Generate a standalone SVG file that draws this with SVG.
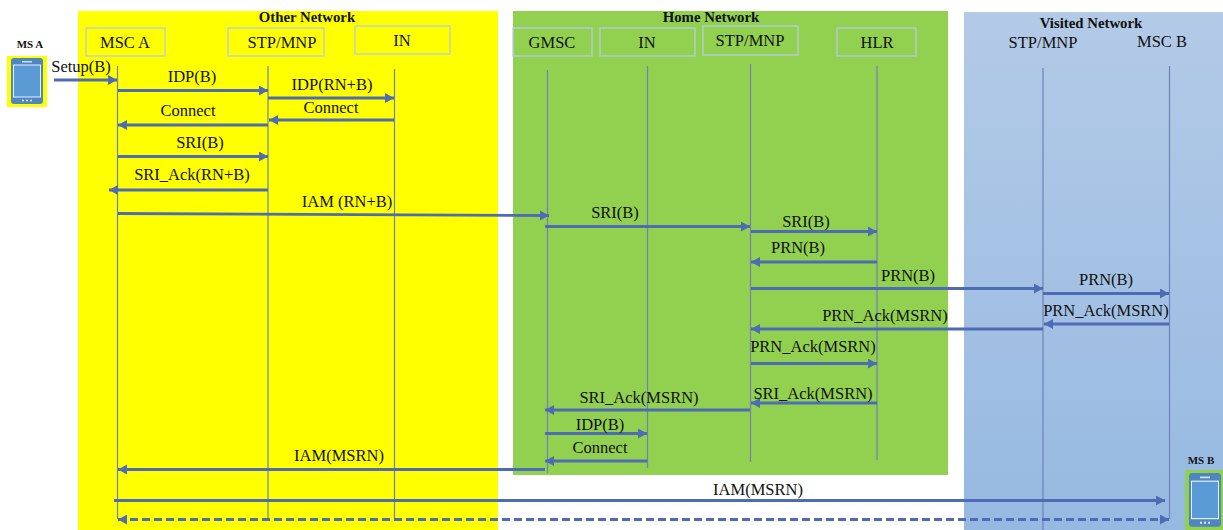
<svg xmlns="http://www.w3.org/2000/svg" width="1223" height="530" viewBox="0 0 1223 530">
<style>
text{font-family:"Liberation Serif",serif;fill:#111;text-anchor:middle}
.l{font-size:16.500px}
.h{font-size:14.800px;font-weight:bold}
.s{font-size:11px;font-weight:bold}
.box{fill:none;stroke:#b4cbe4;stroke-width:1.3}
.life{stroke:#6c84b8;stroke-width:1.2;fill:none}
.m{stroke:#4d6cb3;stroke-width:2.800;fill:none;marker-end:url(#a)}
.d{stroke-dasharray:8 4;marker-start:url(#b)}
</style>
<defs>
<marker id="a" markerUnits="userSpaceOnUse" markerWidth="11" markerHeight="11" refX="9" refY="5" orient="auto"><path d="M0 0L9 5L0 10Z" fill="#4d6cb3"/></marker>
<marker id="b" markerUnits="userSpaceOnUse" markerWidth="11" markerHeight="11" refX="0" refY="5" orient="auto"><path d="M9 0L0 5L9 10Z" fill="#4d6cb3"/></marker>
<linearGradient id="v" x1="0" y1="0" x2="0" y2="1"><stop offset="0" stop-color="#b3cae7"/><stop offset="1" stop-color="#96b9e1"/></linearGradient>
<g id="phone"><rect x="0" y="0" width="32" height="46" rx="3" fill="#4f86c0"/><rect x="2.500" y="7" width="27" height="32" fill="#5b9bd5" stroke="#e8f0f8"/><rect x="11" y="3" width="10" height="1.500" fill="#cfe0f0"/><circle cx="12" cy="42.500" r="1" fill="#e8f0f8"/><circle cx="16" cy="42.500" r="1" fill="#e8f0f8"/><circle cx="20" cy="42.500" r="1" fill="#e8f0f8"/></g>
</defs>
<rect id="bg-other" x="78" y="11" width="420" height="519" fill="#ffff00"/>
<rect id="bg-home" x="513" y="11" width="435" height="464" fill="#92d050"/>
<rect id="bg-visited" x="964" y="12" width="259" height="518" fill="url(#v)"/>
<text class="h" x="307" y="22">Other Network</text>
<text class="h" x="711" y="22">Home Network</text>
<text class="h" x="1091" y="28">Visited Network</text>
<g id="ms-a"><rect x="7" y="56" width="40" height="51" fill="#ffff00"/><use href="#phone" x="11" y="58"/><text class="s" x="30" y="48">MS A</text></g>
<g id="ms-b"><rect x="1185" y="470" width="38" height="60" fill="#92d050"/><use href="#phone" transform="translate(1189 473) scale(1 1.170)"/><text class="s" x="1201" y="464">MS B</text></g>
<g id="msc-a"><rect class="box" x="86" y="28" width="79" height="28"/><text class="l" x="125" y="48">MSC A</text></g>
<g id="stp-o"><rect class="box" x="228" y="28" width="96" height="28"/><text class="l" x="282" y="48">STP/MNP</text></g>
<g id="in-o"><rect class="box" x="355" y="26" width="95" height="28"/><text class="l" x="402" y="46">IN</text></g>
<g id="gmsc"><rect class="box" x="513" y="28" width="79" height="28"/><text class="l" x="552" y="48">GMSC</text></g>
<g id="in-h"><rect class="box" x="600" y="28" width="95" height="28"/><text class="l" x="647" y="48">IN</text></g>
<g id="stp-h"><rect class="box" x="703" y="26" width="95" height="29"/><text class="l" x="750" y="46">STP/MNP</text></g>
<g id="hlr"><rect class="box" x="837" y="28" width="79" height="28"/><text class="l" x="877" y="48">HLR</text></g>
<g id="stp-v"><text class="l" x="1043" y="48">STP/MNP</text></g>
<g id="msc-b"><text class="l" x="1162" y="47">MSC B</text></g>
<g id="connectors">
<path class="life" d="M117.500 66V519M268 66V519M394.500 69V519M547.500 70V473M647.500 66V468M750.500 64V462M877 66V460M1043 68V530M1169.500 66V519"/>
<path class="m" d="M54 80H117"/>
<path class="m" d="M118 90.500H268"/>
<path class="m" d="M268 98H394"/>
<path class="m" d="M394 120H269"/>
<path class="m" d="M268 125H118"/>
<path class="m" d="M118 156.500H268"/>
<path class="m" d="M268 190H109"/>
<path class="m" d="M118 213.500L549 215.500"/>
<path class="m" d="M545 226.500H750"/>
<path class="m" d="M751 231.500H877"/>
<path class="m" d="M877 262H751"/>
<path class="m" d="M751 288.500H1043"/>
<path class="m" d="M1043 293.500H1169"/>
<path class="m" d="M1169 324H1044"/>
<path class="m" d="M1043 329H751"/>
<path class="m" d="M751 363.500H877"/>
<path class="m" d="M877 403H751"/>
<path class="m" d="M750 410H545"/>
<path class="m" d="M545 433.500H647"/>
<path class="m" d="M647 461H545"/>
<path class="m" d="M545 469.500H118"/>
<path class="m" d="M114 500.500H1165"/>
<path class="m d" d="M118 519.500H1169"/>
</g>
<g id="labels">
<text class="l" x="81" y="72">Setup(B)</text>
<text class="l" x="192" y="82">IDP(B)</text>
<text class="l" x="332" y="90">IDP(RN+B)</text>
<text class="l" x="331" y="113">Connect</text>
<text class="l" x="188" y="116">Connect</text>
<text class="l" x="200" y="148">SRI(B)</text>
<text class="l" x="192" y="180">SRI_Ack(RN+B)</text>
<text class="l" x="347" y="207">IAM (RN+B)</text>
<text class="l" x="615" y="218">SRI(B)</text>
<text class="l" x="806" y="227">SRI(B)</text>
<text class="l" x="798" y="253">PRN(B)</text>
<text class="l" x="908" y="281">PRN(B)</text>
<text class="l" x="1106" y="285">PRN(B)</text>
<text class="l" x="1106" y="316">PRN_Ack(MSRN)</text>
<text class="l" x="885" y="321">PRN_Ack(MSRN)</text>
<text class="l" x="813" y="352">PRN_Ack(MSRN)</text>
<text class="l" x="813" y="399">SRI_Ack(MSRN)</text>
<text class="l" x="639" y="403">SRI_Ack(MSRN)</text>
<text class="l" x="600" y="430">IDP(B)</text>
<text class="l" x="600" y="453">Connect</text>
<text class="l" x="339" y="461">IAM(MSRN)</text>
<text class="l" x="758" y="495">IAM(MSRN)</text>
</g>
</svg>
